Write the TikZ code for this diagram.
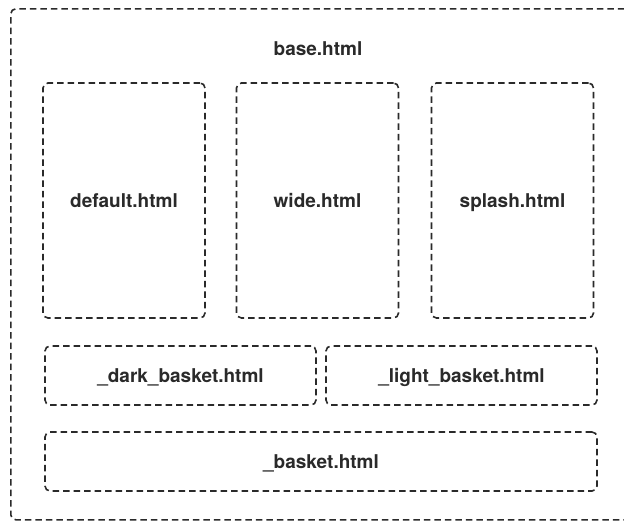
\documentclass[tikz,border=0pt]{standalone}
\usepackage{fontspec}
\setmainfont{TeX Gyre Heros}
\usepackage{tikz}
\usetikzlibrary{positioning}
\definecolor{linegray}{HTML}{2A2A2A}
\tikzset{
tmpl/.style={shape=rectangle, draw=linegray, line width=1.6pt, rounded corners=5pt, dash pattern=on 6.5pt off 4pt, inner sep=0, text=linegray, font=\fontsize{19}{22}\selectfont\bfseries, text height=13.5pt, text depth=0pt}, page/.style={tmpl, minimum width=162pt, minimum height=235pt}, partial/.style={tmpl, minimum height=59pt}}

\begin{document}
\begin{tikzpicture}[x=1pt, y=-1pt]
\useasboundingbox (0,0) rectangle (624,520);
\clip (0,0) rectangle (624,520);
\fill [white] (0,0) rectangle (624,520);
\node [tmpl, anchor=north west, minimum width=650pt, minimum height=511pt] at (10,8) (base) {};
\node [tmpl, draw=none] at (318,49) (base-label) {base.html};
\foreach \plabel [count=\p] / \px in {default/124, wide/317.5, splash/512.5}{
      \node [page] at (\px, 200.5) (page-\p) {\plabel.html};
}
\node [partial, minimum width=271pt] at (180.5, 375.5) (dark) {\_dark\_basket.html};
\node [partial, minimum width=271pt] at (461.5, 375.5) (light) {\_light\_basket.html};
\node [partial, minimum width=552pt] at (321, 461.5) (basket) {\_basket.html};
\end{tikzpicture}
\end{document}
